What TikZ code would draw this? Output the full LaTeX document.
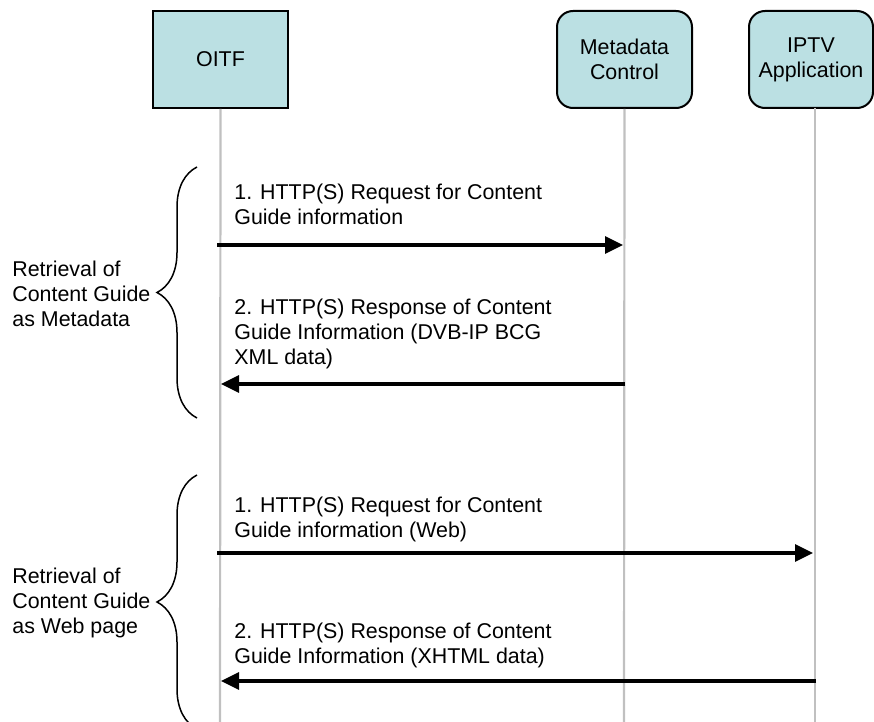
\documentclass[tikz,border=0pt]{standalone}
\usepackage{fontspec}
\setmainfont{Liberation Sans}
\usetikzlibrary{arrows.meta,decorations.pathreplacing}
\definecolor{boxcyan}{RGB}{187,224,227}
\definecolor{lifegray}{RGB}{192,192,192}

\begin{document}
\begin{tikzpicture}[x=0.5pt,y=-0.5pt,
    every node/.style={font=\fontsize{10.7}{12.5}\selectfont},
    actor/.style={draw=black,line width=1pt,fill=boxcyan,align=center,
      minimum width=67.5pt,minimum height=48.5pt,inner sep=0pt},
    lifeline/.style={draw=lifegray,line width=1.1pt},
    msg/.style={line width=1.6pt,-{Triangle[length=9pt,width=8.5pt]}},
    msgtext/.style={anchor=north west,inner sep=0pt,align=left},
    curly/.style={line width=0.75pt,decorate,decoration={brace,amplitude=20pt}}]
        \useasboundingbox (0,0) rectangle (874,722) ;
        % the three parties
        \node[actor] (oitf) at (220.5,59.5) {OITF} ;
        \node[actor,rounded corners=8pt] (meta) at (624.5,59.5) {Metadata\\Control} ;
        \node[actor,rounded corners=8pt,minimum width=62pt] (iptv) at (811,59.5) {IPTV\\Application} ;
        % lifelines
        \coordinate (oitfend) at (220,730) ;
        \coordinate (metaend) at (624,730) ;
        \coordinate (iptvtop) at (815,108.5) ;
        \coordinate (iptvend) at (815,730) ;
        \draw[lifeline] (oitf.south) -- (oitfend) ;
        \draw[lifeline] (meta.south) -- (metaend) ;
        \draw[lifeline] (iptvtop) -- (iptvend) ;
        % content guide as metadata
        \coordinate (o1) at (217,245) ; \coordinate (m1) at (623,245) ;
        \coordinate (m2) at (625,384) ; \coordinate (o2) at (221,384) ;
        \draw[msg] (o1) -- (m1) ;
        \draw[msg] (m2) -- (o2) ;
        \node[msgtext] (t1) at (234,184) {1. HTTP(S) Request for Content\\Guide information} ;
        \node[msgtext] (t2) at (234,299) {2. HTTP(S) Response of Content\\Guide Information (DVB-IP BCG\\XML data)} ;
        % content guide as web page
        \coordinate (o3) at (217,553) ; \coordinate (i3) at (813,553) ;
        \coordinate (i4) at (816,681) ; \coordinate (o4) at (221,681) ;
        \draw[msg] (o3) -- (i3) ;
        \draw[msg] (i4) -- (o4) ;
        \node[msgtext] (t3) at (234,497) {1. HTTP(S) Request for Content\\Guide information (Web)} ;
        \node[msgtext] (t4) at (234,623) {2. HTTP(S) Response of Content\\Guide Information (XHTML data)} ;
        % braces and their labels
        \coordinate (b1top) at (197,167) ; \coordinate (b1bot) at (197,418) ;
        \coordinate (b2top) at (197,475) ; \coordinate (b2bot) at (197,729) ;
        \draw[curly] (b1bot) -- (b1top) ;
        \draw[curly] (b2bot) -- (b2top) ;
        \node[msgtext] (g1) at (12,261) {Retrieval of\\Content Guide\\as Metadata} ;
        \node[msgtext] (g2) at (12,568) {Retrieval of\\Content Guide\\as Web page} ;
\end{tikzpicture}
\end{document}
